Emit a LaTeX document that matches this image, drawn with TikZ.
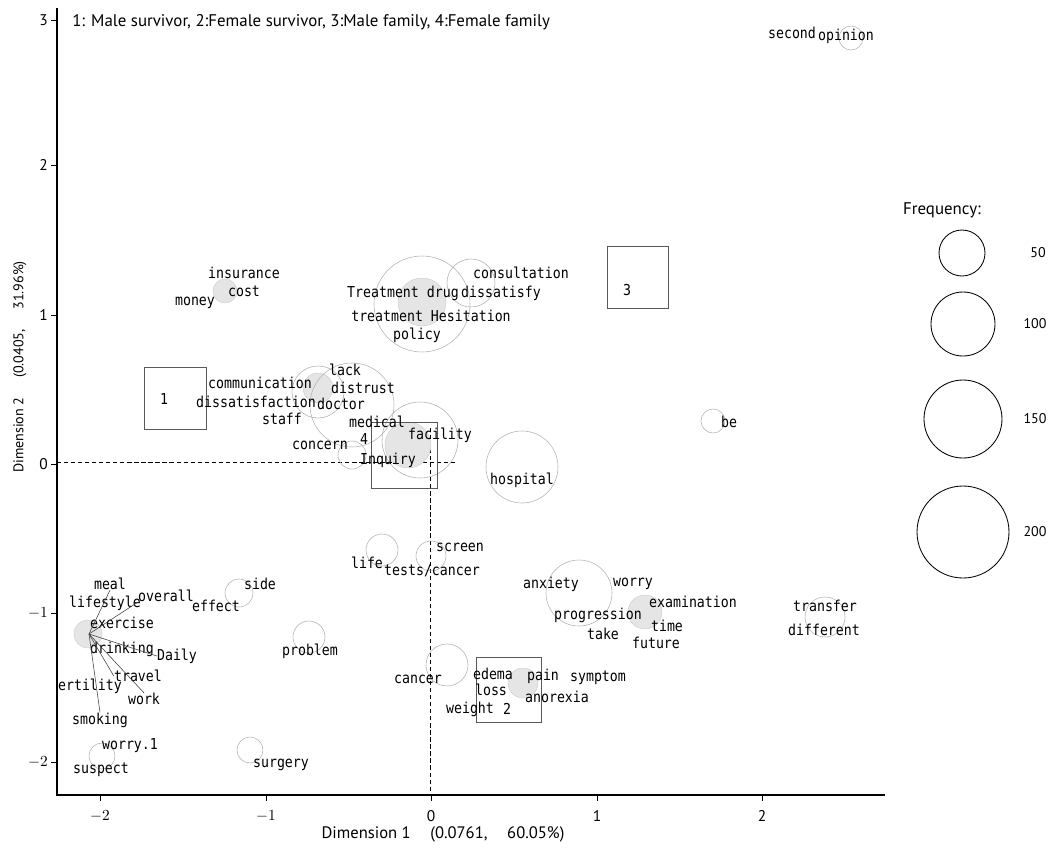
\documentclass[tikz,border=0pt]{standalone}
\usepackage{fontspec}
\setmainfont{PT Sans}
\newfontfamily\lblfont[FakeStretch=0.88]{DejaVu Sans Mono}

\begin{document}
\begin{tikzpicture}[x=0.025cm, y=-0.025cm,
    lbl/.style={font=\lblfont\fontsize{10.7}{12}\selectfont, inner sep=0pt},
    txt/.style={font=\fontsize{10}{12}\selectfont, inner sep=0pt},
    tick/.style={font=\fontsize{11}{12}\selectfont, inner sep=0pt},
    bubble/.style={draw=gray!60, line width=0.4pt},
    shade/.style={fill=gray!20, draw=gray!40, line width=0.3pt},
    grpbox/.style={draw=gray!70!black, line width=0.5pt},
    legcirc/.style={draw=black, line width=0.6pt},
    leader/.style={draw=black!75, line width=0.4pt}]
    \useasboundingbox (0,0) rectangle (1060,849);

    % axes
    \draw[line width=1pt] (57,8) -- (57,795) -- (885,795);
    \draw[densely dashed, line width=0.4pt] (57,462) -- (455,462);
    \draw[densely dashed, line width=0.4pt] (430,428) -- (430,795);
    \foreach \xp/\xl in {100/$-2$, 266/$-1$, 431/0, 597/1, 762/2} {
        \draw (\xp,795) -- (\xp,801);
        \node[tick] at (\xp,816) {\xl};
    }
    \foreach \yp/\yl in {20/3, 165/2, 315/1, 464/0, 613/$-1$, 762/$-2$} {
        \draw (57,\yp) -- (51,\yp);
        \node[tick, anchor=east] at (48,\yp) {\yl};
    }
    \node[txt, font=\fontsize{11.8}{13}\selectfont] (xtitle) at (443,834) {Dimension 1\hspace{14pt}(0.0761,\hspace{14pt}60.05\%)};
    \node[txt, rotate=90] (ytitle) at (20,367) {Dimension 2\hspace{14pt}(0.0405,\hspace{14pt}31.96\%)};
    \node[txt, anchor=west, font=\fontsize{12}{14}\selectfont] (note) at (72,22) {1: Male survivor, 2:Female survivor, 3:Male family, 4:Female family};

    % bubbles
    \draw[shade] (225,291) circle[radius=12];
    \draw[shade] (422,302) circle[radius=24];
    \draw[bubble] (422,304) circle[radius=48];
    \draw[bubble] (471,283) circle[radius=24];
    \draw[shade] (318,388) circle[radius=15];
    \draw[bubble] (318,392) circle[radius=26];
    \draw[bubble] (352,405) circle[radius=42];
    \draw[bubble] (352,455) circle[radius=14];
    \draw[shade] (408,445) circle[radius=23];
    \draw[bubble] (420,440) circle[radius=38];
    \draw[bubble] (522,467) circle[radius=36];
    \draw[bubble] (713,421) circle[radius=12];
    \draw[bubble] (851,38) circle[radius=12];
    \draw[shade] (88,634) circle[radius=14];
    \draw[bubble] (239,593) circle[radius=14];
    \draw[bubble] (309,637) circle[radius=16];
    \draw[bubble] (102,756) circle[radius=13];
    \draw[bubble] (250,750) circle[radius=13];
    \draw[bubble] (382,550) circle[radius=16];
    \draw[bubble] (431,556) circle[radius=15];
    \draw[bubble] (447,665) circle[radius=21];
    \draw[bubble] (579,593) circle[radius=33];
    \draw[shade] (645,612) circle[radius=17];
    \draw[bubble] (825,617) circle[radius=20];
    \draw[shade] (523,683) circle[radius=15];

    % group boxes
    \draw[grpbox] (144,367) rectangle (206,429);
    \draw[grpbox] (371,422) rectangle (437,488);
    \draw[grpbox] (607,246) rectangle (668,308);
    \draw[grpbox] (476,657) rectangle (541,722);
    \node[lbl] (g1) at (164,399) {1};
    \node[lbl] (g2) at (507,709) {2};
    \node[lbl] (g3) at (627,290) {3};
    \node[lbl] (g4) at (364,439) {4};

    % word labels
    \node[lbl] (insurance) at (244,273) {insurance};
    \node[lbl] (cost) at (244,291) {cost};
    \node[lbl] (money) at (195,303) {money};
    \node[lbl] (communication) at (260,383) {communication};
    \node[lbl] (dissatisfaction) at (256,402) {dissatisfaction};
    \node[lbl] (staff) at (282,419) {staff};
    \node[lbl] (doctor) at (341,404) {doctor};
    \node[lbl] (lack) at (345,370) {lack};
    \node[lbl] (distrust) at (363,388) {distrust};
    \node[lbl] (medical) at (377,422) {medical};
    \node[lbl] (concern) at (320,445) {concern};
    \node[lbl] (inquiry) at (388,460) {Inquiry};
    \node[lbl] (facility) at (440,435) {facility};
    \node[lbl] (consultation) at (521,273) {consultation};
    \node[lbl] (drug) at (403,293) {Treatment drug};
    \node[lbl] (dissatisfy) at (501,293) {dissatisfy};
    \node[lbl] (hesitation) at (431,316) {treatment Hesitation};
    \node[lbl] (policy) at (417,335) {policy};
    \node[lbl] (be) at (729,422) {be};
    \node[lbl] (hospital) at (522,480) {hospital};
    \node[lbl] (second) at (792,33) {second};
    \node[lbl] (opinion) at (846,36) {opinion};
    \node[lbl] (meal) at (110,584) {meal};
    \node[lbl] (lifestyle) at (105,603) {lifestyle};
    \node[lbl] (overall) at (166,596) {overall};
    \node[lbl] (exercise) at (122,623) {exercise};
    \node[lbl] (drinking) at (122,649) {drinking};
    \node[lbl] (daily) at (177,656) {Daily};
    \node[lbl] (travel) at (138,676) {travel};
    \node[lbl] (fertility) at (90,686) {ertility};
    \node[lbl] (work) at (144,699) {work};
    \node[lbl] (smoking) at (100,720) {smoking};
    \node[lbl] (side) at (260,584) {side};
    \node[lbl] (effect) at (216,606) {effect};
    \node[lbl] (problem) at (310,651) {problem};
    \node[lbl] (worryone) at (130,746) {worry.1};
    \node[lbl] (suspect) at (101,770) {suspect};
    \node[lbl] (surgery) at (281,765) {surgery};
    \node[lbl] (life) at (367,563) {life};
    \node[lbl] (tests) at (432,571) {tests/cancer};
    \node[lbl] (screen) at (460,547) {screen};
    \node[lbl] (cancer) at (418,679) {cancer};
    \node[lbl] (anxiety) at (551,584) {anxiety};
    \node[lbl] (worry) at (633,584) {worry};
    \node[lbl] (examination) at (693,602) {examination};
    \node[lbl] (progression) at (598,615) {progression};
    \node[lbl] (take) at (603,634) {take};
    \node[lbl] (time) at (667,626) {time};
    \node[lbl] (future) at (656,643) {future};
    \node[lbl] (transfer) at (825,606) {transfer};
    \node[lbl] (different) at (824,630) {different};
    \node[lbl] (edema) at (493,674) {edema};
    \node[lbl] (pain) at (543,676) {pain};
    \node[lbl] (symptom) at (598,678) {symptom};
    \node[lbl] (loss) at (491,690) {loss};
    \node[lbl] (anorexia) at (557,697) {anorexia};
    \node[lbl] (weight) at (470,709) {weight};

    % leader lines of the lifestyle cluster
    \coordinate (hub) at (89,634);
    \draw[leader] (hub) -- (meal.south);
    \draw[leader] (hub) -- (overall.south west);
    \draw[leader] (hub) -- (daily.west);
    \draw[leader] (hub) -- (travel.west);
    \draw[leader] (hub) -- (work.north);
    \draw[leader] (hub) -- (smoking.north);

    % legend
    \node[txt, font=\fontsize{12}{14}\selectfont] (freq) at (942,210) {Frequency:};
    \draw[legcirc] (962,253) circle[radius=23];
    \draw[legcirc] (963,324) circle[radius=32];
    \draw[legcirc] (963,419) circle[radius=39];
    \draw[legcirc] (963,532) circle[radius=46];
    \node[txt] (f50) at (1038,253) {50};
    \node[txt] (f100) at (1035,324) {100};
    \node[txt] (f150) at (1035,419) {150};
    \node[txt] (f200) at (1035,532) {200};
\end{tikzpicture}
\end{document}
